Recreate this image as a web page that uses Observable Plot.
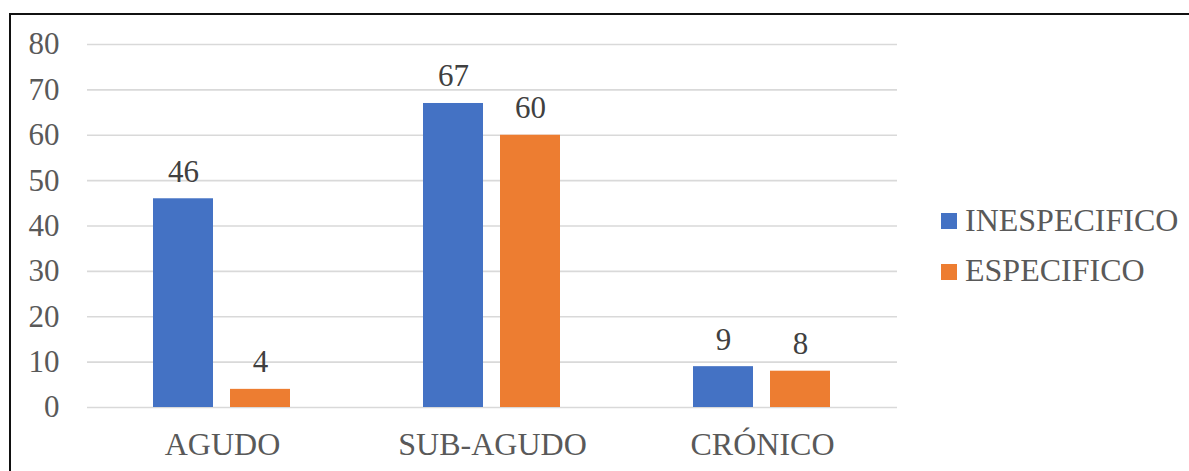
<!DOCTYPE html>
<html>
<head>
<meta charset="utf-8">
<script src="https://cdn.jsdelivr.net/npm/d3@7"></script>
<script src="https://cdn.jsdelivr.net/npm/@observablehq/plot@0.6"></script>
<style>
  html, body { margin: 0; padding: 0; background: #fff; overflow: hidden; }
  #wrap { position: relative; width: 1189px; height: 471px; overflow: hidden; }
  #frame { position: absolute; left: 9px; top: 13px; width: 1240px; height: 520px;
           border: 2px solid #111; box-sizing: border-box; pointer-events: none; }
  #chart { position: absolute; left: 0; top: 0; }
  #chart svg text { font-family: "Liberation Serif", "Times New Roman", "DejaVu Serif", serif !important; }
  .legend-row { position: absolute; left: 941px; font-family: "Liberation Serif", "Times New Roman", "DejaVu Serif", serif;
                font-size: 32px; line-height: 32px; color: #595959; white-space: nowrap; }
  .legend-row .sw { position: absolute; left: 0; width: 16px; height: 16px; }
  .legend-row .lb { position: absolute; left: 24px; top: 0; }
</style>
</head>
<body>
<div id="wrap">
  <div id="chart"></div>
  <div id="frame"></div>
</div>
<script>
// Cases by stage and type
const categories = ["AGUDO", "SUB-AGUDO", "CRÓNICO"];
const series = ["INESPECIFICO", "ESPECIFICO"];
const inespecifico = [46, 67, 9];
const especifico = [4, 60, 8];
const yTicks = [0, 10, 20, 30, 40, 50, 60, 70, 80];
const colors = ["#4472C4", "#ED7D31"];

const rows = categories.flatMap((c, i) => [
  {cat: c, serie: series[0], value: inespecifico[i]},
  {cat: c, serie: series[1], value: especifico[i]}
]);

const font = "'Liberation Serif', 'Times New Roman', 'DejaVu Serif', serif";

const chart = Plot.plot({
  width: 1189,
  height: 471,
  marginLeft: 86,
  marginRight: 292,
  marginTop: 44,
  marginBottom: 64,
  style: {fontFamily: font, fontSize: "31px", background: "transparent", overflow: "visible"},
  fx: {domain: categories, padding: 0, label: null},
  x: {domain: series, paddingInner: 0.22, paddingOuter: 0.85, axis: null},
  y: {domain: [0, 80], axis: null},
  color: {domain: series, range: colors},
  marks: [
    Plot.gridY(yTicks, {stroke: "#d9d9d9", strokeOpacity: 1, strokeWidth: 1.6}),
    Plot.axisY(yTicks, {tickSize: 0, tickPadding: 28, fontSize: 31, fill: "#595959", label: null}),
    Plot.axisFx({anchor: "bottom", tickSize: 0, tickPadding: 25, fontSize: 32, fill: "#595959", label: null}),
    Plot.barY(rows, {fx: "cat", x: "serie", y: "value", fill: "serie"}),
    Plot.text(rows, {fx: "cat", x: "serie", y: "value", text: d => String(d.value),
      lineAnchor: "bottom", dy: -17, fontSize: 31, fill: "#404040"})
  ]
});
document.getElementById("chart").appendChild(chart);

// Legend on the right side
const wrap = document.getElementById("wrap");
const tops = [204, 254];
const swatchTops = [9, 10];
series.forEach((s, i) => {
  const row = document.createElement("div");
  row.className = "legend-row";
  row.style.top = tops[i] + "px";
  const sw = document.createElement("div");
  sw.className = "sw";
  sw.style.background = colors[i];
  sw.style.top = swatchTops[i] + "px";
  const lb = document.createElement("span");
  lb.className = "lb";
  lb.textContent = s;
  row.appendChild(sw);
  row.appendChild(lb);
  wrap.appendChild(row);
});
</script>
</body>
</html>
